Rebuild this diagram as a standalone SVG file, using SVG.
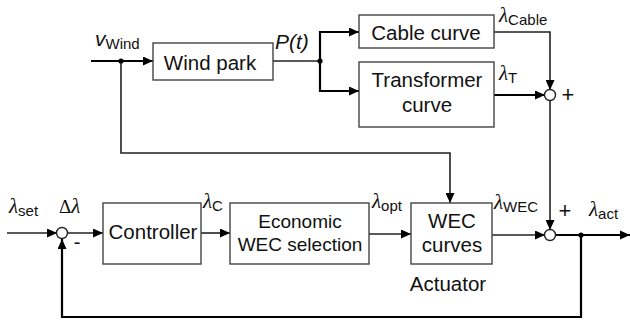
<svg xmlns="http://www.w3.org/2000/svg" width="630" height="320" viewBox="0 0 630 320">
<defs>
<marker id="ar" viewBox="0 0 10 10" refX="10" refY="5" markerWidth="10" markerHeight="9" markerUnits="userSpaceOnUse" orient="auto" preserveAspectRatio="none">
<path d="M0,0 L10,5 L0,10 z" fill="#000"/>
</marker>
</defs>
<style>
.box{fill:#fff;stroke:#444;stroke-width:1.4}
.ln{fill:none;stroke:#222;stroke-width:1.6}
.th{fill:none;stroke:#000;stroke-width:2.2}
.sum{fill:#fff;stroke:#222;stroke-width:1.4}
.t{font-family:"Liberation Sans",Arial,sans-serif;fill:#111;text-anchor:middle;font-size:20.5px}
.lab{font-family:"Liberation Sans",Arial,sans-serif;fill:#111}
.lam{font-family:"Liberation Serif","Times New Roman",serif;font-style:italic;font-size:21px}
.sub{font-size:15px}
</style>
<g id="connectors">
<path class="th" d="M91,61 H153" marker-end="url(#ar)"/>
<path class="ln" d="M273,61 H320"/>
<path class="th" d="M320,61 V32 H359" marker-end="url(#ar)"/>
<path class="th" d="M320,61 V91 H359" marker-end="url(#ar)"/>
<path class="ln" d="M494,32 H550 V90" marker-end="url(#ar)"/>
<path class="th" d="M494,95 H545" marker-end="url(#ar)"/>
<path class="ln" d="M550,100 V230" marker-end="url(#ar)"/>
<path class="ln" d="M121,61 V153 H450 V203" marker-end="url(#ar)"/>
<path class="ln" d="M7,233 H57" marker-end="url(#ar)"/>
<path class="ln" d="M67,233 H103" marker-end="url(#ar)"/>
<path class="ln" d="M201,233 H230" marker-end="url(#ar)"/>
<path class="ln" d="M369,234 H411" marker-end="url(#ar)"/>
<path class="ln" d="M492,235 H545" marker-end="url(#ar)"/>
<path class="th" d="M556,235 H630"/>
<path d="M620,230.5 L630,235 L620,239.5 z" fill="#000"/>
<path class="th" d="M581,235 V317 H62 V239" marker-end="url(#ar)"/>
<circle cx="121" cy="61" r="2.6" fill="#000"/>
<circle cx="320" cy="61" r="2.6" fill="#000"/>
<circle cx="581" cy="235" r="2.6" fill="#000"/>
</g>
<g id="sum1"><circle class="sum" cx="550" cy="95" r="5.5"/><text class="t" x="568" y="102" style="font-size:22px">+</text></g>
<g id="sum2"><circle class="sum" cx="550" cy="235" r="5.5"/><text class="t" x="565" y="218" style="font-size:22px">+</text></g>
<g id="sum0"><circle class="sum" cx="62" cy="233" r="5.5"/><text class="t" x="77" y="249" style="font-size:20px">-</text></g>
<g id="windpark"><rect class="box" x="153" y="43" width="120" height="37"/><text class="t" x="210" y="70">Wind park</text></g>
<g id="cable"><rect class="box" x="359" y="15" width="135" height="33"/><text class="t" x="426" y="40">Cable curve</text></g>
<g id="transformer"><rect class="box" x="359" y="62" width="135" height="65"/><text class="t" x="427" y="87">Transformer</text><text class="t" x="427" y="112">curve</text></g>
<g id="controller"><rect class="box" x="103" y="203" width="98" height="61"/><text class="t" x="153" y="239">Controller</text></g>
<g id="economic"><rect class="box" x="230" y="203" width="139" height="61"/><text class="t" x="300" y="228" style="font-size:19px">Economic</text><text class="t" x="300" y="251" style="font-size:19px">WEC selection</text></g>
<g id="wec"><rect class="box" x="411" y="203" width="81" height="61"/><text class="t" x="452" y="228">WEC</text><text class="t" x="452" y="252">curves</text></g>
<g id="labels">
<text class="t" x="448" y="291">Actuator</text>
<text class="lab" x="95" y="46"><tspan font-style="italic" font-size="21">v</tspan><tspan class="sub" dy="3">Wind</tspan></text>
<text class="lab" x="275" y="49" font-style="italic" font-size="21">P(t)</text>
<text class="lab" x="499" y="22"><tspan class="lam">λ</tspan><tspan class="sub" dy="3">Cable</tspan></text>
<text class="lab" x="499" y="80"><tspan class="lam">λ</tspan><tspan class="sub" dy="3">T</tspan></text>
<text class="lab" x="9" y="213"><tspan class="lam">λ</tspan><tspan class="sub" dy="3">set</tspan></text>
<text class="lab" x="59" y="213"><tspan font-family="Liberation Serif,serif" font-size="19">Δ</tspan><tspan class="lam">λ</tspan></text>
<text class="lab" x="203" y="208"><tspan class="lam">λ</tspan><tspan class="sub" dy="3">C</tspan></text>
<text class="lab" x="372" y="208"><tspan class="lam">λ</tspan><tspan class="sub" dy="3">opt</tspan></text>
<text class="lab" x="494" y="209"><tspan class="lam">λ</tspan><tspan class="sub" dy="3">WEC</tspan></text>
<text class="lab" x="589" y="216"><tspan class="lam">λ</tspan><tspan class="sub" dy="3">act</tspan></text>
</g>
</svg>
